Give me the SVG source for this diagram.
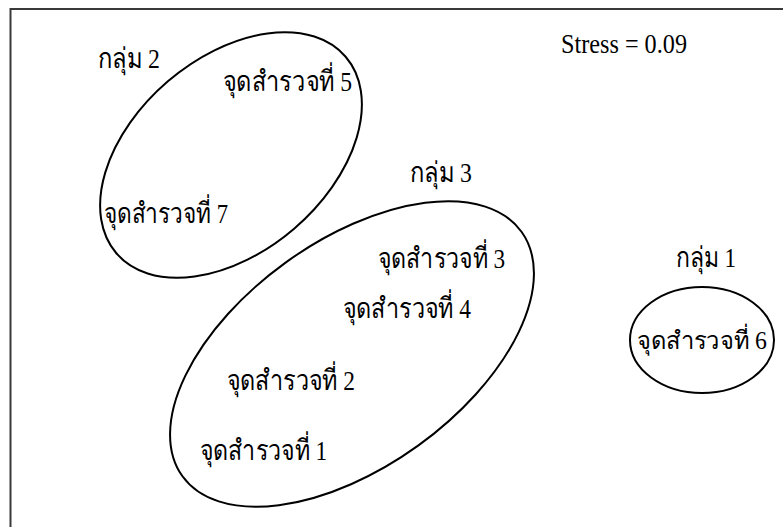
<svg xmlns="http://www.w3.org/2000/svg" width="783" height="527" viewBox="0 0 783 527">
<style>
.frame{fill:none;stroke:#3a3a3a;stroke-width:2}
.grp{fill:none;stroke:#000;stroke-width:2}
.th{font-family:"Liberation Serif","DejaVu Serif",serif;font-size:28px;fill:#000}
.st{font-family:"Liberation Serif","Times New Roman",serif;font-size:27px;fill:#000}
</style>
<rect width="783" height="527" fill="#fff"/>
<path class="frame" d="M10.5,527 V9 H783"/>
<text class="st" x="561" y="53" textLength="126" lengthAdjust="spacingAndGlyphs">Stress = 0.09</text>
<g id="group2">
<ellipse class="grp" cx="231" cy="155" rx="151" ry="97" transform="rotate(-40.6 231 155)"/>
<text class="th" x="98" y="68" textLength="62" lengthAdjust="spacingAndGlyphs">กลุ่ม 2</text>
<text class="th" x="223" y="91" textLength="129" lengthAdjust="spacingAndGlyphs">จุดสำรวจที่ 5</text>
<text class="th" x="104" y="223" textLength="124" lengthAdjust="spacingAndGlyphs">จุดสำรวจที่ 7</text>
</g>
<g id="group3">
<ellipse class="grp" cx="352" cy="354" rx="209" ry="113" transform="rotate(-35.8 352 354)"/>
<text class="th" x="410" y="182" textLength="62" lengthAdjust="spacingAndGlyphs">กลุ่ม 3</text>
<text class="th" x="378" y="268" textLength="127" lengthAdjust="spacingAndGlyphs">จุดสำรวจที่ 3</text>
<text class="th" x="343" y="318" textLength="128" lengthAdjust="spacingAndGlyphs">จุดสำรวจที่ 4</text>
<text class="th" x="227" y="390" textLength="128" lengthAdjust="spacingAndGlyphs">จุดสำรวจที่ 2</text>
<text class="th" x="200" y="460" textLength="127" lengthAdjust="spacingAndGlyphs">จุดสำรวจที่ 1</text>
</g>
<g id="group1">
<ellipse class="grp" cx="702" cy="340" rx="72" ry="53"/>
<text class="th" x="676" y="267" textLength="60" lengthAdjust="spacingAndGlyphs">กลุ่ม 1</text>
<text class="th" x="637" y="349" style="font-size:25px" textLength="130" lengthAdjust="spacingAndGlyphs">จุดสำรวจที่ 6</text>
</g>
</svg>
